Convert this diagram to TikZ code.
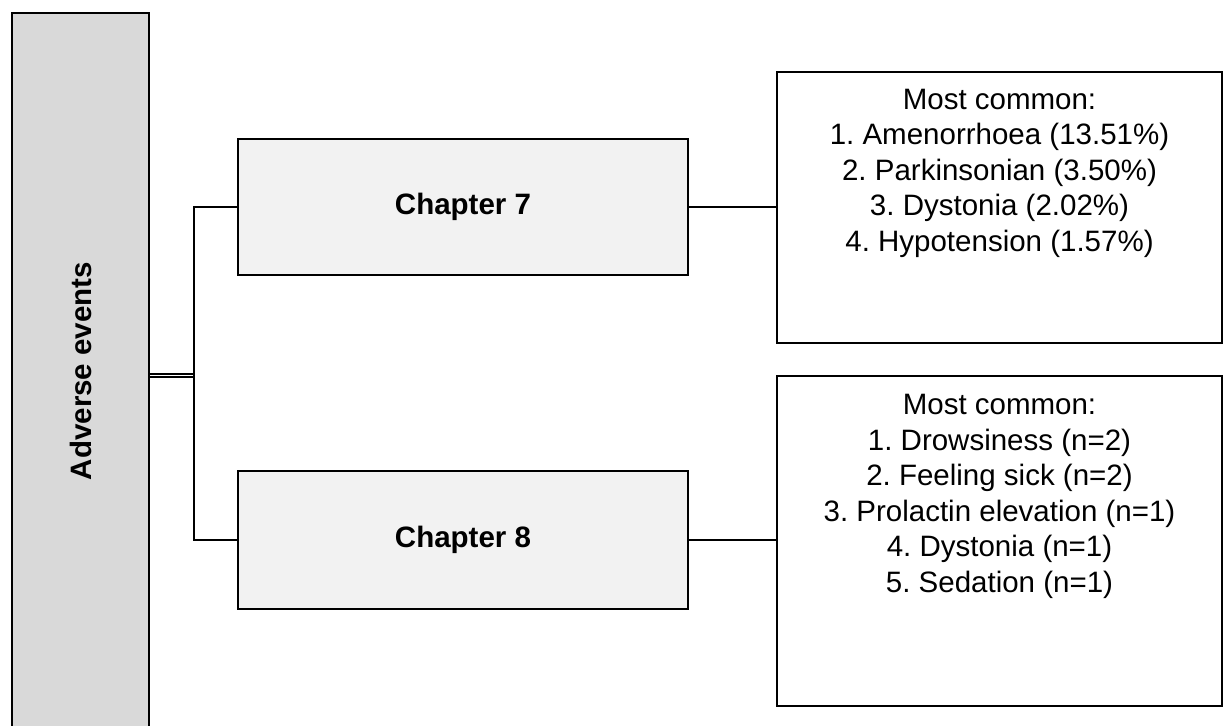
\documentclass[tikz,border=0pt]{standalone}
\usepackage{fontspec}
\setmainfont{Liberation Sans}
\begin{document}
\frenchspacing
\begin{tikzpicture}[x=0.5pt,y=-0.5pt,
  frame/.style={draw=black,line width=1.25pt},
  link/.style={draw=black,line width=1.25pt},
  txt/.style={font=\fontsize{14.75pt}{17.75pt}\selectfont,align=center,inner sep=0pt},
  bold/.style={txt,font=\fontsize{14.75pt}{17.75pt}\selectfont\bfseries}]
\useasboundingbox (0,0) rectangle (1232,726);
\clip (0,0) rectangle (1232,726);
% side bar
\path[frame,fill={rgb,255:red,217;green,217;blue,217}] (12,13) rectangle (149,740);
\node[bold,rotate=90] (side) at (80.5,371) {Adverse events};
\coordinate (sideout) at (149,375.5);
% chapter boxes
\node[frame,fill={rgb,255:red,242;green,242;blue,242},minimum width=450pt*0.5,minimum height=136pt*0.5,inner sep=0pt] (ch7) at (463,207) {};
\node[bold] at (ch7) {Chapter 7};
\node[frame,fill={rgb,255:red,242;green,242;blue,242},minimum width=450pt*0.5,minimum height=138pt*0.5,inner sep=0pt] (ch8) at (463,540) {};
\node[bold] at (ch8) {Chapter 8};
% result boxes
\node[frame,fill=white,minimum width=445pt*0.5,minimum height=271pt*0.5,inner sep=0pt] (r7) at (999.5,207.5) {};
\node[txt] (r7t) at (999.5,173) {Most common:\\1. Amenorrhoea (13.51\%)\\2. Parkinsonian (3.50\%)\\3. Dystonia (2.02\%)\\4. Hypotension (1.57\%)};
\node[frame,fill=white,minimum width=445pt*0.5,minimum height=330pt*0.5,inner sep=0pt] (r8) at (999.5,541) {};
\node[txt] (r8t) at (999.5,496.5) {Most common:\\1. Drowsiness (n=2)\\2. Feeling sick (n=2)\\3. Prolactin elevation (n=1)\\4. Dystonia (n=1)\\5. Sedation (n=1)};
% connectors
\coordinate (fork) at (194,375.5);
\draw[link] ([yshift=-1.6*0.5pt]sideout) -- ([yshift=-1.6*0.5pt]fork);
\draw[link] ([yshift=1.6*0.5pt]sideout) -- ([yshift=1.6*0.5pt]fork);
\draw[link] (ch7.west) -| (fork) |- (ch8.west);
\draw[link] (ch7.east) -- (r7.west |- ch7.east);
\draw[link] (ch8.east) -- (r8.west |- ch8.east);
\end{tikzpicture}
\end{document}
